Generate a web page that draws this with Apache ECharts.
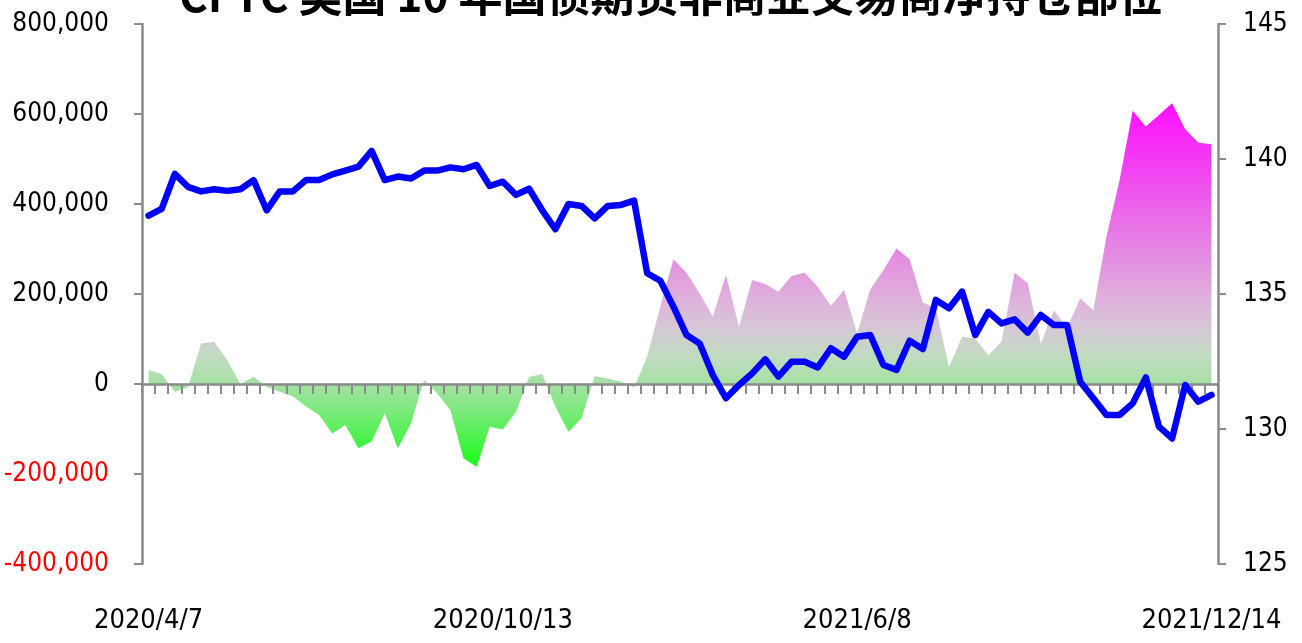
<!DOCTYPE html>
<html><head><meta charset="utf-8">
<script src="https://cdn.jsdelivr.net/npm/echarts@6/dist/echarts.min.js"></script>
<style>html,body{margin:0;padding:0;background:#fff}#c{width:1302px;height:643px}</style>
</head><body><div id="c"></div>
<script>
const titleText = 'CFTC 美国 10 年国债期货非商业交易商净持仓部位';

const dates = [
  '2020/4/7','2020/4/14','2020/4/21','2020/4/28','2020/5/5','2020/5/12','2020/5/19','2020/5/26',
  '2020/6/2','2020/6/9','2020/6/16','2020/6/23','2020/6/30','2020/7/7','2020/7/14','2020/7/21',
  '2020/7/28','2020/8/4','2020/8/11','2020/8/18','2020/8/25','2020/9/1','2020/9/8','2020/9/15',
  '2020/9/22','2020/9/29','2020/10/6','2020/10/13',
  '2020/10/20','2020/10/27','2020/11/3','2020/11/10','2020/11/17','2020/11/24','2020/12/1','2020/12/8',
  '2020/12/15','2020/12/22','2020/12/29','2021/1/5','2021/1/12','2021/1/19','2021/1/26',
  '2021/3/23','2021/3/30','2021/4/6','2021/4/13','2021/4/20','2021/4/27','2021/5/4','2021/5/11',
  '2021/5/18','2021/5/25','2021/6/1','2021/6/8',
  '2021/6/15','2021/6/22','2021/6/29','2021/7/6','2021/7/13','2021/7/20','2021/7/27','2021/8/3',
  '2021/8/10','2021/8/17','2021/8/24','2021/8/31','2021/9/7','2021/9/14','2021/9/21','2021/9/28',
  '2021/10/5','2021/10/12','2021/10/19','2021/10/26','2021/11/2','2021/11/9','2021/11/16','2021/11/23',
  '2021/11/30','2021/12/7','2021/12/14'
];

// Non-commercial net position (left axis, contracts)
const netPosition = [
  31000, 22000, -17000, -8000, 90000, 94000, 53000, 0, 16000, -6000,
  -17000, -28000, -50000, -69000, -110000, -91000, -143000, -128000, -65000, -143000,
  -87000, 9000, -21000, -58000, -165000, -184000, -95000, -101000, -62000, 16000,
  22000, -50000, -106000, -76000, 18000, 12000, 5000, -8000, 61000, 172000,
  277000, 247000, 201000, 150000, 242000, 127000, 231000, 222000, 205000, 240000,
  247000, 216000, 174000, 209000, 113000, 210000, 253000, 301000, 277000, 181000,
  168000, 38000, 105000, 101000, 64000, 94000, 247000, 224000, 90000, 164000,
  125000, 190000, 164000, 327000, 453000, 607000, 572000, 598000, 624000, 566000,
  536000, 533000
];

// 10Y T-Note futures price (right axis)
const futuresPrice = [
  137.9, 138.15, 139.45, 138.97, 138.8, 138.88, 138.82, 138.88, 139.22, 138.1,
  138.8, 138.8, 139.22, 139.22, 139.43, 139.57, 139.72, 140.3, 139.22, 139.35,
  139.28, 139.57, 139.57, 139.69, 139.62, 139.78, 139.0, 139.16, 138.67, 138.9,
  138.1, 137.4, 138.33, 138.26, 137.8, 138.26, 138.3, 138.46, 135.77, 135.49,
  134.53, 133.48, 133.17, 132.0, 131.14, 131.63, 132.06, 132.58, 131.94, 132.49,
  132.49, 132.28, 132.99, 132.68, 133.42, 133.48, 132.37, 132.19, 133.27, 132.96,
  134.78, 134.47, 135.09, 133.48, 134.34, 133.91, 134.06, 133.57, 134.22, 133.85,
  133.85, 131.75, 131.14, 130.52, 130.52, 130.95, 131.91, 130.09, 129.65, 131.63,
  131.01, 131.26
];

const leftRange = [-400000, 800000, 200000];
const rightRange = [125, 145, 5];

const labelFont = "'Liberation Sans Narrow','DejaVu Sans Condensed','Arial Narrow',sans-serif";
const axisGray = '#8a8a8a';

const chart = echarts.init(document.getElementById('c'), null, {renderer: 'canvas'});
chart.setOption({
  animation: false,
  backgroundColor: '#ffffff',
  title: {
    text: titleText, left: 174, top: -32,
    textStyle: {fontSize: 44, fontWeight: 'bold', color: '#000', fontFamily: "'Noto Sans CJK SC',sans-serif"}
  },
  grid: {left: 142, right: 84, top: 24, bottom: 79, containLabel: false, outerBoundsMode: 'none'},
  xAxis: [
    {
      type: 'category', data: dates, boundaryGap: true, position: 'bottom', z: 3,
      axisLine: {show: true, onZero: true, onZeroAxisIndex: 0, lineStyle: {color: axisGray, width: 2.5}},
      axisTick: {show: true, interval: 0, length: 10, lineStyle: {color: axisGray, width: 2}},
      axisLabel: {show: false}, splitLine: {show: false}
    },
    {
      type: 'category', data: dates, boundaryGap: true, position: 'bottom',
      axisLine: {show: false, onZero: false}, axisTick: {show: false}, splitLine: {show: false},
      axisLabel: {interval: 26, margin: 43, fontSize: 27, color: '#000', fontFamily: labelFont}
    }
  ],
  yAxis: [
    {
      type: 'value', position: 'left', min: leftRange[0], max: leftRange[1], interval: leftRange[2],
      axisLine: {show: true, onZero: false, lineStyle: {color: axisGray, width: 2.5}},
      axisTick: {show: true, length: 8, lineStyle: {color: axisGray, width: 2}},
      splitLine: {show: false},
      axisLabel: {
        margin: 33, fontSize: 26, fontFamily: labelFont,
        formatter: v => Number(v).toLocaleString('en-US'),
        color: v => (String(v).charAt(0) === '-' ? '#ff0000' : '#000000')
      }
    },
    {
      type: 'value', position: 'right', min: rightRange[0], max: rightRange[1], interval: rightRange[2],
      axisLine: {show: true, onZero: false, lineStyle: {color: axisGray, width: 2.5}},
      axisTick: {show: true, length: 8, lineStyle: {color: axisGray, width: 2}},
      splitLine: {show: false},
      axisLabel: {margin: 25, fontSize: 26, fontFamily: labelFont, color: '#000'}
    }
  ],
  series: [
    {
      name: 'net', type: 'line', data: netPosition, xAxisIndex: 0, yAxisIndex: 0,
      symbol: 'none', silent: true, z: 2,
      lineStyle: {width: 0, opacity: 0},
      areaStyle: {
        opacity: 1,
        color: new echarts.graphic.LinearGradient(0, 105, 0, 470, [
          {offset: 0.00, color: '#ff10ff'},
          {offset: 0.12, color: '#f532f5'},
          {offset: 0.40, color: '#e488e2'},
          {offset: 0.53, color: '#dfb0dc'},
          {offset: 0.61, color: '#d6c8d6'},
          {offset: 0.69, color: '#c0dcc0'},
          {offset: 0.77, color: '#a2e2a2'},
          {offset: 0.84, color: '#7aea7a'},
          {offset: 0.92, color: '#48f248'},
          {offset: 1.00, color: '#10ff10'}
        ], true)
      }
    },
    {
      name: 'price', type: 'line', data: futuresPrice, xAxisIndex: 0, yAxisIndex: 1,
      symbol: 'none', z: 5,
      lineStyle: {color: '#0000ff', width: 6.5, join: 'round', cap: 'round'}
    }
  ]
});
</script>
</body></html>
